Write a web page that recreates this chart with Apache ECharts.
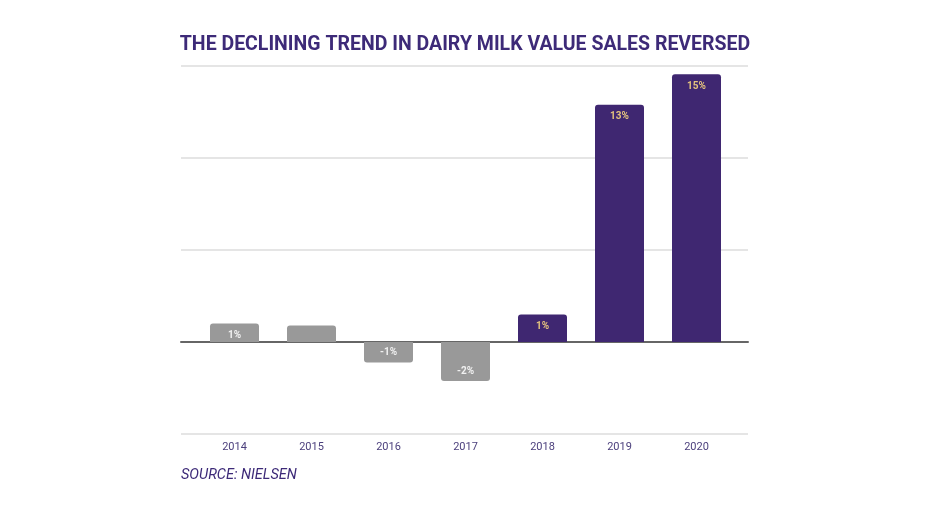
<!DOCTYPE html>
<html>
<head>
<meta charset="utf-8">
<script src="https://cdn.jsdelivr.net/npm/echarts@6/dist/echarts.min.js"></script>
<style>html,body{margin:0;padding:0;background:#fff;}#c{width:930px;height:518px;}</style>
</head>
<body>
<div id="c"></div>
<script>
const categories = ['2014', '2015', '2016', '2017', '2018', '2019', '2020'];
const values = [1.0, 0.9, -1.12, -2.12, 1.5, 12.9, 14.55];
const valueLabels = ['1%', '', '-1%', '-2%', '1%', '13%', '15%'];
const highlighted = [false, false, false, false, true, true, true];

const PURPLE = '#3f2771';
const GRAY = '#999999';

const chart = echarts.init(document.getElementById('c'));
chart.setOption({
  animation: false,
  backgroundColor: '#ffffff',
  title: {
    text: 'THE DECLINING TREND IN DAIRY MILK VALUE SALES REVERSED',
    left: 'center', top: 30,
    textStyle: { fontFamily: 'Roboto', fontWeight: 'bold', fontSize: 19.5, color: '#3d2a78' }
  },
  graphic: [{
    type: 'text', left: 181, top: 468,
    style: { text: 'SOURCE: NIELSEN', fontFamily: 'Roboto', fontStyle: 'italic', fontSize: 14.5, fill: '#3d2a78' }
  }],
  grid: [
    { left: 196, right: 195, top: 66, bottom: 84 },
    { left: 181, right: 182, top: 66, bottom: 84 }
  ],
  xAxis: [
    {
      type: 'category', data: categories, gridIndex: 0,
      position: 'bottom',
      axisLine: { show: false }, axisTick: { show: false },
      axisLabel: { color: '#4b3f7c', fontFamily: 'Roboto', fontSize: 11, margin: 8 },
      splitLine: { show: false }
    },
    {
      type: 'value', gridIndex: 1, min: 0, max: 1,
      axisLine: { show: true, onZero: true, lineStyle: { color: '#666', width: 2 } },
      axisTick: { show: false }, axisLabel: { show: false }, splitLine: { show: false }
    }
  ],
  yAxis: [
    {
      type: 'value', gridIndex: 0, min: -5, max: 15, interval: 5,
      axisLine: { show: false }, axisTick: { show: false }, axisLabel: { show: false },
      splitLine: { show: false }
    },
    {
      type: 'value', gridIndex: 1, min: -5, max: 15, interval: 5,
      axisLine: { show: false }, axisTick: { show: false }, axisLabel: { show: false },
      splitLine: { show: true, lineStyle: { color: '#dcdcdc', width: 1.5 } }
    }
  ],
  series: [{
    type: 'bar', xAxisIndex: 0, yAxisIndex: 0, z: 5,
    barWidth: 49,
    data: values.map((v, i) => ({
      value: v,
      itemStyle: { color: highlighted[i] ? PURPLE : GRAY, borderRadius: v >= 0 ? [3, 3, 0, 0] : [0, 0, 3, 3] },
      label: {
        show: true,
        position: v >= 0 ? 'insideTop' : 'insideBottom',
        distance: v >= 0 ? 7 : 5,
        formatter: () => valueLabels[i],
        color: highlighted[i] ? '#e3c27e' : '#f0f0f0',
        fontFamily: 'Roboto', fontWeight: 'bold', fontSize: 10
      }
    }))
  }]
});
</script>
</body>
</html>
